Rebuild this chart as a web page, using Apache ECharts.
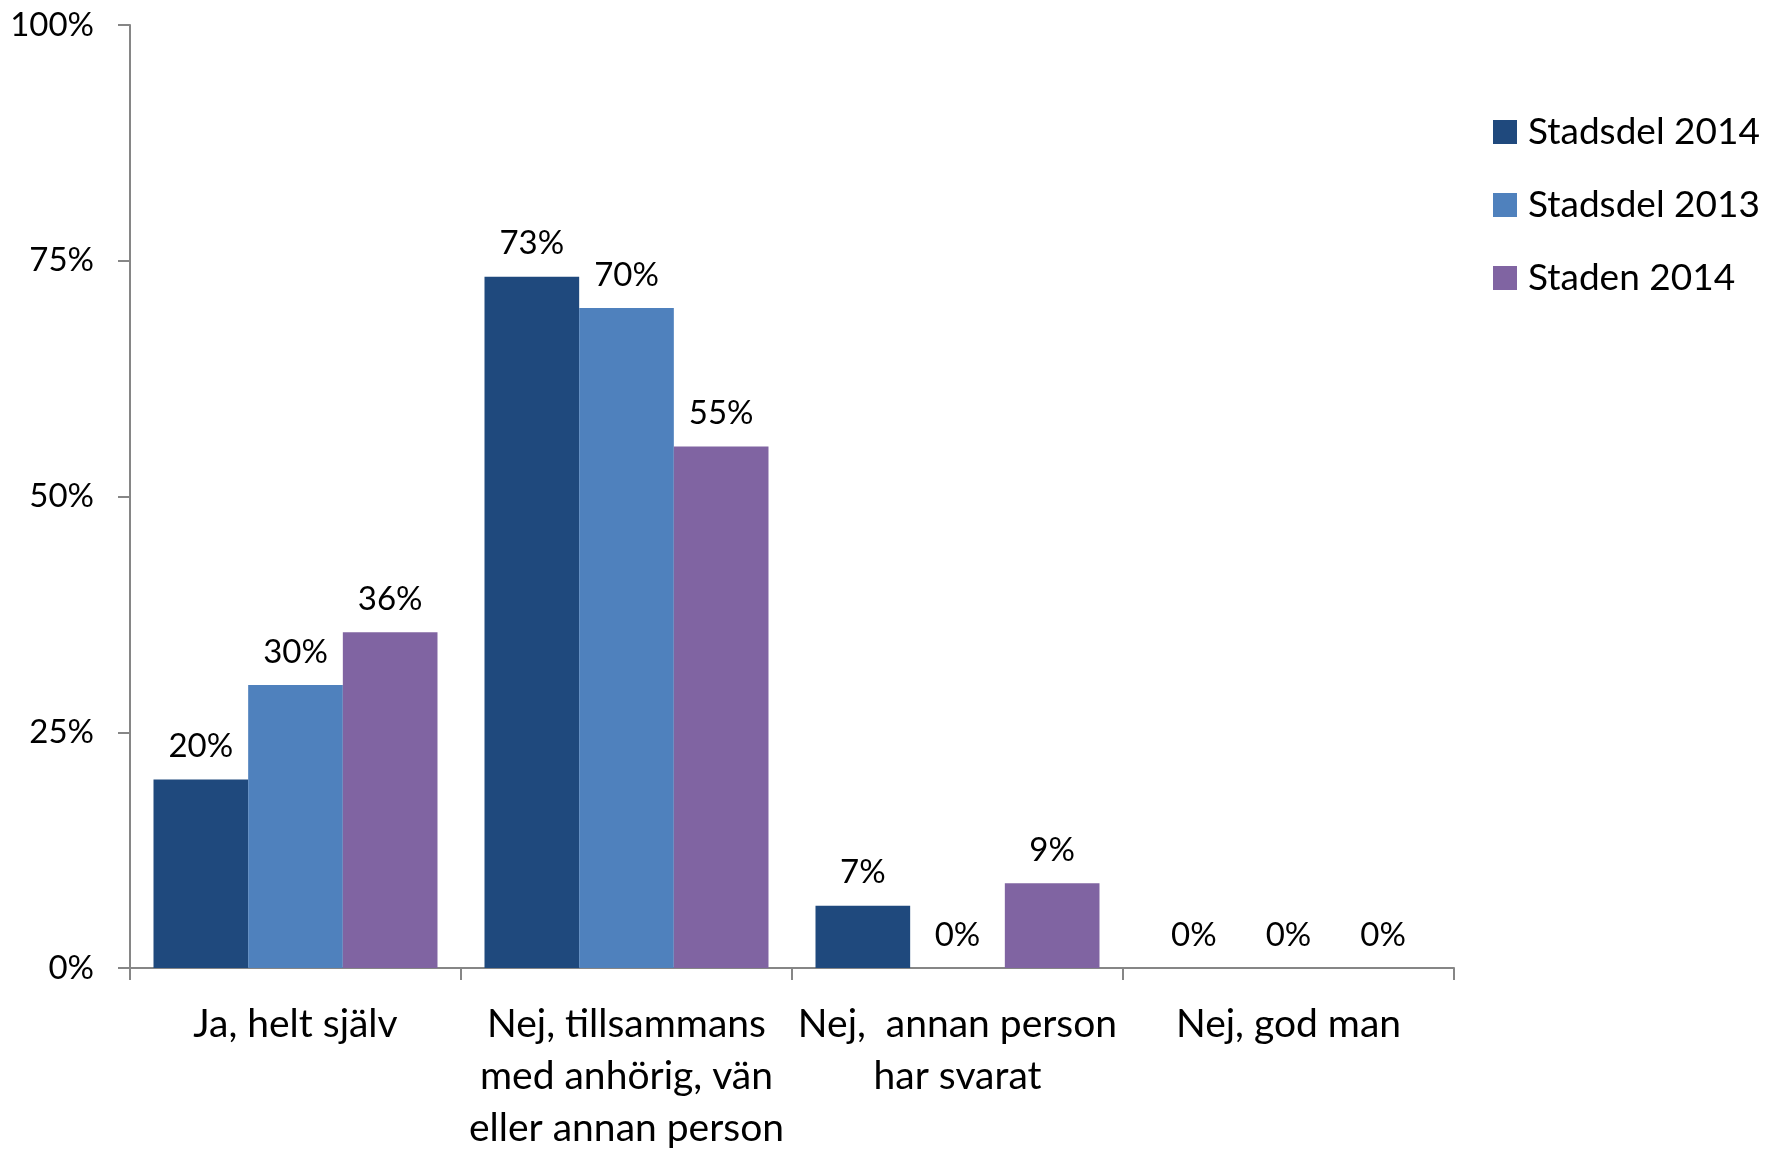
<!DOCTYPE html>
<html>
<head>
<meta charset="utf-8">
<script src="https://cdn.jsdelivr.net/npm/echarts@6/dist/echarts.min.js"></script>
<style>
  html,body{margin:0;padding:0;background:#fff;}
  #chart{width:1774px;height:1149px;}
</style>
</head>
<body>
<div id="chart"></div>
<script>
// kategorier och värden (andel)
let categories = ['Ja, helt själv', 'Nej, tillsammans\nmed anhörig, vän\neller annan person', 'Nej,  annan person\nhar svarat', 'Nej, god man']
let seriesNames = ['Stadsdel 2014', 'Stadsdel 2013', 'Staden 2014']
let stadsdel2014 = [0.20, 0.733, 0.066, 0]
let stadsdel2013 = [0.30, 0.70, 0, 0]
let staden2014 = [0.356, 0.553, 0.09, 0]
let yTicks = [0, 0.25, 0.5, 0.75, 1]

let colors = ['#1F497D', '#4F81BD', '#8064A2']
let font = 'Lato, "Open Sans", sans-serif'

let myChart = echarts.init(document.getElementById('chart'))

let series = []
let allData = [stadsdel2014, stadsdel2013, staden2014]
for (let i = 0; i < 3; i++) {
  series.push({
    name: seriesNames[i],
    type: 'bar',
    data: allData[i],
    barGap: '0%',
    barCategoryGap: '14.2%',
    itemStyle: {color: colors[i]},
    label: {
      show: true,
      position: 'top',
      distance: 15,
      color: '#000',
      fontFamily: font,
      fontSize: 33,
      lineHeight: 36,
      formatter: function (p) { return Math.round(p.value * 100) + '%' }
    }
  })
}

let option = {
  animation: false,
  color: colors,
  grid: {left: 130, right: 320, top: 25, bottom: 181, containLabel: false, outerBoundsMode: 'none'},
  legend: {
    orient: 'vertical',
    left: 1488,
    top: 107,
    icon: 'rect',
    itemWidth: 24,
    itemHeight: 24,
    itemGap: 33,
    data: seriesNames,
    textStyle: {color: '#000', fontFamily: font, fontSize: 37, lineHeight: 40, padding: [0, 0, 0, 6]}
  },
  xAxis: {
    type: 'category',
    data: categories,
    axisLine: {lineStyle: {color: '#868686', width: 2}},
    axisTick: {show: true, length: 12, lineStyle: {color: '#868686', width: 2}},
    axisLabel: {
      color: '#000',
      fontFamily: font,
      fontSize: 39,
      lineHeight: 52,
      margin: 30,
      interval: 0
    }
  },
  yAxis: {
    type: 'value',
    min: yTicks[0],
    max: yTicks[yTicks.length - 1],
    interval: 0.25,
    splitLine: {show: false},
    axisLine: {show: true, lineStyle: {color: '#868686', width: 2}},
    axisTick: {show: true, length: 12, lineStyle: {color: '#868686', width: 2}},
    axisLabel: {
      color: '#000',
      fontFamily: font,
      fontSize: 33,
      margin: 36,
      formatter: function (v) { return Math.round(v * 100) + '%' }
    }
  },
  series: series
}
myChart.setOption(option)
</script>
</body>
</html>
